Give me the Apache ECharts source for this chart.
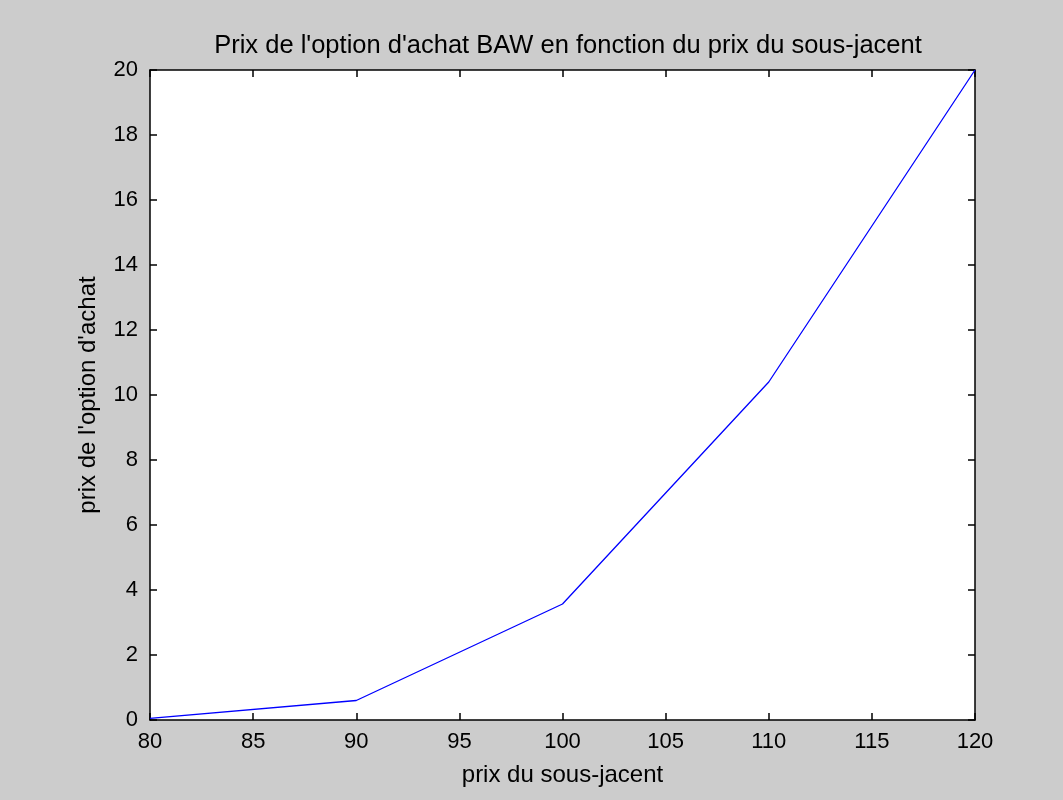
<!DOCTYPE html>
<html>
<head>
<meta charset="utf-8">
<script src="https://cdn.jsdelivr.net/npm/echarts@6/dist/echarts.min.js"></script>
<style>
  html, body { margin: 0; padding: 0; background: #cccccc; }
  #chart { width: 1063px; height: 800px; }
</style>
</head>
<body>
<div id="chart"></div>
<script>
// prix du sous-jacent / prix de l'option d'achat
const spotPrices = [80, 90, 100, 110, 120];
const callPrices = [0.05, 0.6, 3.57, 10.4, 20];

const chart = echarts.init(document.getElementById('chart'));
const font = 'Liberation Sans, Arial, sans-serif';

const tickStyle = { show: true, inside: true, length: 7, lineStyle: { color: '#000', width: 1.5 } };

chart.setOption({
    backgroundColor: '#cccccc',
    animation: false,
    title: {
        text: "Prix de l'option d'achat BAW en fonction du prix du sous-jacent",
        left: 563, top: 28, textAlign: 'center',
        textStyle: { fontFamily: font, fontSize: 25.5, fontWeight: 'normal', color: '#000' }
    },
    grid: { left: 150, right: 88, top: 70, bottom: 80, backgroundColor: '#fff', show: true, borderWidth: 0 },
    xAxis: [{
        type: 'value', min: 80, max: 120, interval: 5,
        name: 'prix du sous-jacent', nameLocation: 'middle', nameGap: 43,
        nameTextStyle: { fontFamily: font, fontSize: 24, color: '#000' },
        axisLine: { show: true, lineStyle: { color: '#000', width: 1.5 } },
        axisTick: tickStyle,
        axisLabel: { fontFamily: font, fontSize: 22, color: '#000', margin: 11 },
        splitLine: { show: false }
    }, {
        type: 'value', min: 80, max: 120, interval: 5, position: 'top',
        axisLine: { show: true, onZero: false, lineStyle: { color: '#000', width: 1.5 } },
        axisTick: tickStyle, axisLabel: { show: false }, splitLine: { show: false }
    }],
    yAxis: [{
        type: 'value', min: 0, max: 20, interval: 2,
        name: "prix de l'option d'achat", nameLocation: 'middle', nameGap: 50,
        nameTextStyle: { fontFamily: font, fontSize: 24, color: '#000' },
        axisLine: { show: true, lineStyle: { color: '#000', width: 1.5 } },
        axisTick: tickStyle,
        axisLabel: { fontFamily: font, fontSize: 22, color: '#000', margin: 12 },
        splitLine: { show: false }
    }, {
        type: 'value', min: 0, max: 20, interval: 2, position: 'right',
        axisLine: { show: true, onZero: false, lineStyle: { color: '#000', width: 1.5 } },
        axisTick: tickStyle, axisLabel: { show: false }, splitLine: { show: false }
    }],
    series: [{
        type: 'line',
        data: spotPrices.map((s, i) => [s, callPrices[i]]),
        showSymbol: false,
        lineStyle: { color: '#0000ff', width: 1.3 },
        itemStyle: { color: '#0000ff' }
    }]
});
</script>
</body>
</html>
